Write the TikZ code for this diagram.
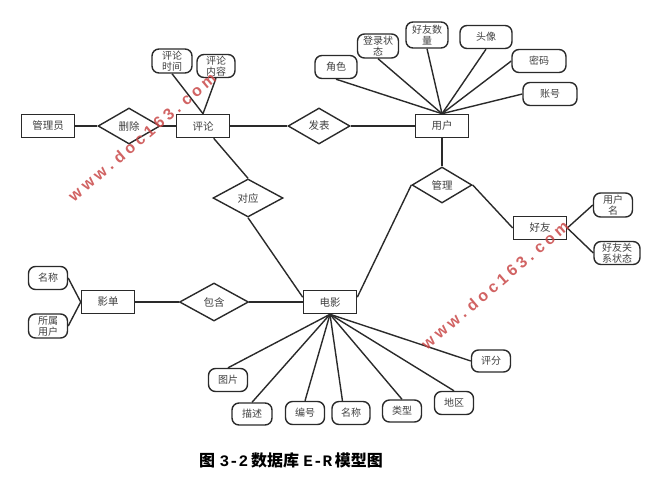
\documentclass[tikz,border=0pt]{standalone}
\usepackage{fontspec}
\setmainfont{Noto Sans CJK SC}
\newfontfamily\monofont{Liberation Mono}
\newfontfamily\wmfont{Liberation Sans}
\usetikzlibrary{shapes.geometric}
\definecolor{lc}{HTML}{2A2A2A}
\definecolor{tc}{HTML}{404040}
\definecolor{wmred}{HTML}{C94848}
\begin{document}
\begin{tikzpicture}[x=1pt,y=-1pt,
  ent/.style={draw=lc, line width=1.6pt, minimum width=53pt, minimum height=23pt, inner sep=0pt, font=\fontsize{10.5}{11}\selectfont, text=tc},
  rel/.style={diamond, draw=lc, line width=1.4pt, inner sep=0pt, font=\fontsize{10.5}{11}\selectfont, text=tc},
  attr/.style={draw=lc, line width=1.4pt, rounded corners=7pt, minimum width=39pt, minimum height=23pt, inner sep=0pt, align=center, font=\fontsize{10}{11}\selectfont, text=tc},
  conn/.style={draw=lc, line width=1.4pt},
  wm/.style={text=wmred, opacity=0.85, font=\wmfont\bfseries\fontsize{16}{16}\selectfont, inner sep=0pt}
]
\useasboundingbox (0,0) rectangle (663,493);
% entities
\node[ent] (gly) at (48,126) {管理员};
\node[ent] (pl) at (203,126) {评论};
\node[ent] (yh) at (442,126) {用户};
\node[ent] (hy) at (540,228) {好友};
\node[ent] (yd) at (108,302) {影单};
\node[ent] (dy) at (330,302) {电影};
% relationships
\node[rel, minimum width=62pt, minimum height=36pt] (sc) at (129,126) {删除};
\node[rel, minimum width=62pt, minimum height=36pt] (fb) at (319,126) {发表};
\node[rel, minimum width=60pt, minimum height=36pt] (gl) at (442,185) {管理};
\node[rel, minimum width=70pt, minimum height=38pt] (dyy) at (248,198) {对应};
\node[rel, minimum width=69pt, minimum height=38pt] (bh) at (214,302) {包含};
% attributes of comment
\node[attr, minimum width=40pt, minimum height=24pt] (plsj) at (172,61) {评论\\时间};
\node[attr, minimum width=38pt] (plnr) at (216,66) {评论\\内容};
% attributes of user
\node[attr, minimum width=42pt] (js) at (336,67) {角色};
\node[attr, minimum width=41pt, minimum height=24pt] (dlzt) at (378,46) {登录状\\态};
\node[attr, minimum width=42pt, minimum height=26pt] (hysl) at (427,35) {好友数\\量};
\node[attr, minimum width=52pt] (tx) at (486,37) {头像};
\node[attr, minimum width=54pt] (mm) at (539,61) {密码};
\node[attr, minimum width=54pt] (zh) at (550,94) {账号};
% attributes of friend
\node[attr, minimum width=39pt, minimum height=24pt] (yhm) at (613,205) {用户\\名};
\node[attr, minimum width=46pt] (hygx) at (617,253) {好友关\\系状态};
% attributes of list
\node[attr] (mc1) at (48,278) {名称};
\node[attr, minimum height=24pt] (ssyh) at (48,326) {所属\\用户};
% attributes of movie
\node[attr] (tp) at (228,380) {图片};
\node[attr, minimum width=40pt, minimum height=22pt] (ms) at (252,414) {描述};
\node[attr] (bhao) at (305,413) {编号};
\node[attr, minimum width=38pt] (mc2) at (351,413) {名称};
\node[attr, minimum height=22pt] (lx) at (402,411) {类型};
\node[attr] (dq) at (454,403) {地区};
\node[attr, minimum height=22pt] (pf) at (491,361) {评分};
% connectors
\draw[conn] (gly) -- (sc);
\draw[conn] (sc) -- (pl);
\draw[conn] (pl) -- (fb);
\draw[conn] (fb) -- (yh);
\draw[conn] (plsj.south) -- (pl.north);
\draw[conn] (plnr.south) -- (pl.north);
\draw[conn] (js.south) -- (yh.north);
\draw[conn] (dlzt.south) -- (yh.north);
\draw[conn] (hysl.south) -- (yh.north);
\draw[conn] (tx.south) -- (yh.north);
\draw[conn] (mm.west) -- (yh.north);
\draw[conn] (zh.west) -- (yh.north);
\draw[conn] (yh.south) -- (gl.north);
\draw[conn] (gl.east) -- (hy.west);
\draw[conn] (gl.west) -- (dy.10);
\draw[conn] (hy.east) -- (yhm.west);
\draw[conn] (hy.east) -- (hygx.west);
\draw[conn] (pl.-49) -- (dyy.north);
\draw[conn] (dyy.south) -- (dy.170);
\draw[conn] (yd) -- (bh);
\draw[conn] (bh) -- (dy);
\draw[conn] (mc1.east) -- (yd.west);
\draw[conn] (ssyh.east) -- (yd.west);
\draw[conn] (dy.south) -- (tp.north);
\draw[conn] (dy.south) -- (ms.north);
\draw[conn] (dy.south) -- (bhao.north);
\draw[conn] (dy.south) -- (mc2.125);
\draw[conn] (dy.south) -- (lx.north);
\draw[conn] (dy.south) -- (dq.north);
\draw[conn] (dy.south) -- (pf.west);
% caption
\node[font=\fontsize{16}{16}\selectfont\bfseries, text=black, inner sep=0pt] (cap) at (291,460) {图\;{\monofont\bfseries 3-2}\,数据库\;{\monofont\bfseries E-R}\,模型图};
% watermarks
\node[wm, rotate=40.4] (wm1) at (142,137) {\makebox[188pt][s]{w w w . d o c 1 6 3 . c o m}};
\node[wm, rotate=40.5] (wm2) at (495,285) {\makebox[188pt][s]{w w w . d o c 1 6 3 . c o m}};
\end{tikzpicture}
\end{document}
